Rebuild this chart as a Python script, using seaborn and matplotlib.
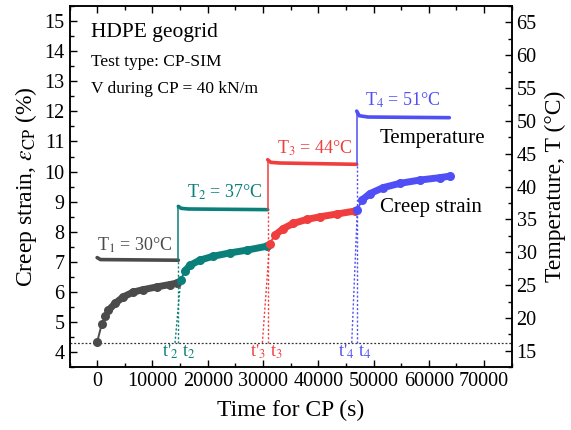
import matplotlib
matplotlib.use("Agg")
import matplotlib.pyplot as plt
import seaborn as sns
import numpy as np
import pandas as pd

# ---------------- data ----------------
# creep strain segments: time (s), strain (%)
t_seg1 = [0, 830, 1430, 2030, 3240, 4740, 6550, 8360, 10780, 13190, 14510]
e_seg1 = [4.34, 4.93, 5.19, 5.39, 5.62, 5.84, 6.00, 6.08, 6.17, 6.25, 6.30]
t_seg2 = [15120, 15900, 16800, 18610, 21020, 24040, 27060, 30680]
e_seg2 = [6.41, 6.70, 6.89, 7.06, 7.19, 7.30, 7.39, 7.52]
t_seg3 = [31200, 32180, 33690, 35500, 37920, 40320, 43340, 46650]
e_seg3 = [7.61, 7.89, 8.11, 8.28, 8.41, 8.50, 8.59, 8.69]
t_seg4 = [47070, 47860, 49370, 51780, 54790, 58410, 62030, 63840]
e_seg4 = [8.72, 9.05, 9.27, 9.47, 9.61, 9.72, 9.80, 9.85]
sparse_head = [4, 2, 2, 2]  # number of separated points at start of each segment

# temperature plateaus: time (s), temperature (degC)
t_temp1 = [0, 600, 14690]
T_temp1 = [29.2, 28.9, 28.8]
t_temp2 = [14690, 15200, 16500, 30860]
T_temp2 = [37.0, 36.7, 36.6, 36.5]
t_temp3 = [30860, 31400, 33000, 46960]
T_temp3 = [44.1, 43.7, 43.6, 43.4]
t_temp4 = [46960, 47400, 49000, 63710]
T_temp4 = [51.5, 50.8, 50.6, 50.5]

# transition times
t_prime = [14090, 29890, 46060]      # t'_2, t'_3, t'_4
t_step = [14690, 30860, 46960]       # t_2, t_3, t_4
baseline_strain = 4.31

temp_labels = ["T$_1$ = 30°C", "T$_2$ = 37°C", "T$_3$ = 44°C", "T$_4$ = 51°C"]
colors = ["#4b4b4b", "#0b7f7a", "#f03d3d", "#4f4ff5"]

# ---------------- style ----------------
sns.set_theme(style="ticks")
plt.rcParams["font.family"] = ["Liberation Serif", "DejaVu Serif"]
plt.rcParams["mathtext.fontset"] = "stix"
plt.rcParams["axes.linewidth"] = 1.1

fig = plt.figure(figsize=(5.71, 4.30), dpi=100)
W, H = 571, 430
ax = fig.add_axes([69.5 / W, 1 - 367.3 / H, 442.2 / W, 361.3 / H])
ax.set_facecolor("white")
ax2 = ax.twinx()

ax.set_xlim(-5000, 75000)
ax.set_ylim(3.5, 15.5)
ax2.set_ylim(12.5, 67.5)

# baseline dotted line
ax.axhline(baseline_strain, color="#333333", lw=0.9, ls=(0, (1.5, 1.5)), zorder=1)

segs = [(t_seg1, e_seg1), (t_seg2, e_seg2), (t_seg3, e_seg3), (t_seg4, e_seg4)]
temps = [(t_temp1, T_temp1), (t_temp2, T_temp2), (t_temp3, T_temp3), (t_temp4, T_temp4)]

# creep strain
for (ts, es), c, k in zip(segs, colors, sparse_head):
    df = pd.DataFrame({"t": ts, "e": es})
    sns.lineplot(data=df, x="t", y="e", ax=ax, color=c, lw=1.4, marker="o",
                 markersize=6.5, markeredgewidth=0, sort=False, zorder=4)
    body = df.iloc[k - 1:]
    sns.lineplot(data=body, x="t", y="e", ax=ax, color=c, lw=5.0,
                 solid_capstyle="round", sort=False, zorder=4)

# temperature
prev_T = None
for i, ((ts, Ts), c) in enumerate(zip(temps, colors)):
    df = pd.DataFrame({"t": ts, "T": Ts})
    sns.lineplot(data=df, x="t", y="T", ax=ax2, color=c, lw=2.6, sort=False, zorder=3)
    if prev_T is not None:
        ax2.plot([ts[0], ts[0]], [prev_T, Ts[0]], color=c, lw=1.1, zorder=3)
    prev_T = Ts[-1]

# dotted transition guides
def strain_to_temp(e):
    return 12.5 + (e - 3.5) * 55.0 / 12.0

for j in range(3):
    c = colors[j + 1]
    ts, es = segs[j + 1]
    # slanted dotted from t' to first point of new segment
    ax.plot([t_prime[j], ts[0]], [baseline_strain, es[0]], color=c, lw=1.0,
            ls=(0, (1.5, 1.5)), zorder=2)
    # vertical dotted at t up to previous temperature level
    prevT = temps[j][1][-1]
    ax2.plot([t_step[j], t_step[j]], [strain_to_temp(baseline_strain), prevT],
             color=c, lw=1.0, ls=(0, (1.5, 1.5)), zorder=2)

# ---------------- texts ----------------
ax.text(0.048, 0.915, "HDPE geogrid", transform=ax.transAxes, fontsize=15.5,
        va="baseline", ha="left", color="black")
ax.text(0.048, 0.834, "Test type: CP-SIM", transform=ax.transAxes, fontsize=12.5,
        va="baseline", ha="left", color="black")
ax.text(0.048, 0.760, "V during CP = 40 kN/m", transform=ax.transAxes, fontsize=12.5,
        va="baseline", ha="left", color="black")

label_pos = [(50, 7.39), (16210, 9.13), (32600, 10.60), (48460, 12.18)]
for (x, y), s, c in zip(label_pos, temp_labels, colors):
    ax.text(x, y, s, color=c, fontsize=13, va="baseline", ha="left")

ax.text(51180, 10.94, "Temperature", fontsize=15, va="baseline", ha="left", color="black")
ax.text(51180, 8.66, "Creep strain", fontsize=15, va="baseline", ha="left", color="black")

t_lab = [(13190, r"t$'_2$", colors[1]), (16500, r"t$_2$", colors[1]),
         (29160, r"t$'_3$", colors[2]), (32490, r"t$_3$", colors[2]),
         (45150, r"t$'_4$", colors[3]), (48320, r"t$_4$", colors[3])]
for x, s, c in t_lab:
    ax.text(x, 3.84, s, color=c, fontsize=13, va="baseline", ha="center")

# ---------------- axes ----------------
ax.set_xlabel("Time for CP (s)", fontsize=17, color="black", labelpad=6)
ax.set_ylabel(r"Creep strain, $\varepsilon_{\mathrm{CP}}$ (%)", fontsize=17,
              color="black", labelpad=4)
ax2.set_ylabel("Temperature, T (°C)", fontsize=17, color="black", labelpad=6)

ax.set_xticks(np.arange(0, 70001, 10000))
ax.set_xticks(np.arange(-5000, 75001, 5000), minor=True)
ax.set_yticks(np.arange(4, 16, 1))
ax.set_yticks(np.arange(3.5, 15.51, 0.5), minor=True)
ax2.set_yticks(np.arange(15, 66, 5))
ax2.set_yticks(np.arange(12.5, 67.51, 2.5), minor=True)

ax.tick_params(axis="x", which="both", direction="in", top=True, bottom=True,
               labelsize=14.5, colors="black")
ax.tick_params(axis="y", which="both", direction="in", left=True, right=False,
               labelsize=14.5, colors="black")
ax.tick_params(which="major", length=5, width=1)
ax.tick_params(which="minor", length=3, width=1)
ax2.tick_params(axis="y", which="both", direction="in", right=True, labelsize=14.5,
                colors="black")
ax2.tick_params(which="major", length=5, width=1)
ax2.tick_params(which="minor", length=3, width=1)
ax.grid(False)
ax2.grid(False)
for a in (ax, ax2):
    for sp in a.spines.values():
        sp.set_color("black")
        sp.set_visible(True)
ax.xaxis.set_major_formatter(matplotlib.ticker.FuncFormatter(lambda v, p: f"{int(v)}"))

fig.savefig("out.png", dpi=100)
